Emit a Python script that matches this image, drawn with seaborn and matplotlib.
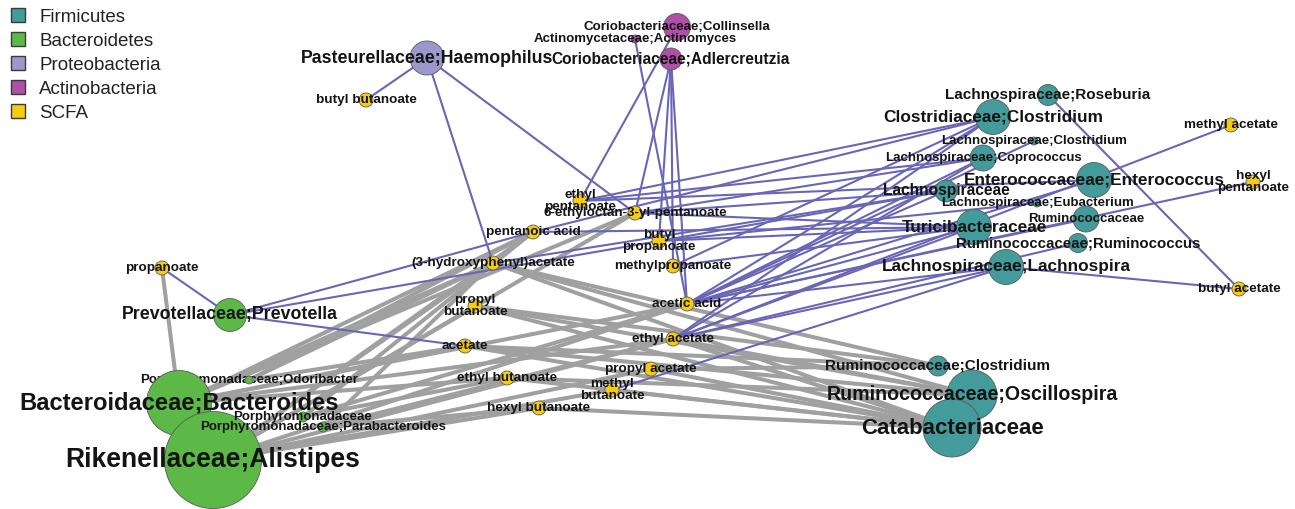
import matplotlib
matplotlib.use("Agg")
import matplotlib.pyplot as plt
from matplotlib.lines import Line2D
import seaborn as sns
import pandas as pd

# ---------------- data ----------------
node_names = [
    "Pasteurellaceae;Haemophilus", "Coriobacteriaceae;Collinsella", "Actinomycetaceae;Actinomyces",
    "Coriobacteriaceae;Adlercreutzia", "Lachnospiraceae;Roseburia", "Clostridiaceae;Clostridium",
    "Lachnospiraceae;Clostridium", "Lachnospiraceae;Coprococcus", "Enterococcaceae;Enterococcus",
    "Lachnospiraceae", "Lachnospiraceae;Eubacterium", "Ruminococcaceae", "Turicibacteraceae",
    "Ruminococcaceae;Ruminococcus", "Lachnospiraceae;Lachnospira", "Prevotellaceae;Prevotella",
    "Porphyromonadaceae;Odoribacter", "Porphyromonadaceae", "Porphyromonadaceae;Parabacteroides",
    "Rikenellaceae;Alistipes", "Bacteroidaceae;Bacteroides", "Ruminococcaceae;Clostridium",
    "Ruminococcaceae;Oscillospira", "Catabacteriaceae",
    "butyl butanoate", "propanoate", "ethyl pentanoate", "6-ethyloctan-3-yl-pentanoate",
    "pentanoic acid", "butyl propanoate", "(3-hydroxyphenyl)acetate", "methylpropanoate",
    "acetic acid", "propyl butanoate", "ethyl acetate", "acetate", "propyl acetate",
    "ethyl butanoate", "methyl butanoate", "hexyl butanoate", "methyl acetate",
    "hexyl pentanoate", "butyl acetate",
]
node_labels = [
    "Pasteurellaceae;Haemophilus", "Coriobacteriaceae;Collinsella", "Actinomycetaceae;Actinomyces",
    "Coriobacteriaceae;Adlercreutzia", "Lachnospiraceae;Roseburia", "Clostridiaceae;Clostridium",
    "Lachnospiraceae;Clostridium", "Lachnospiraceae;Coprococcus", "Enterococcaceae;Enterococcus",
    "Lachnospiraceae", "Lachnospiraceae;Eubacterium", "Ruminococcaceae", "Turicibacteraceae",
    "Ruminococcaceae;Ruminococcus", "Lachnospiraceae;Lachnospira", "Prevotellaceae;Prevotella",
    "Porphyromonadaceae;Odoribacter", "Porphyromonadaceae", "Porphyromonadaceae;Parabacteroides",
    "Rikenellaceae;Alistipes", "Bacteroidaceae;Bacteroides", "Ruminococcaceae;Clostridium",
    "Ruminococcaceae;Oscillospira", "Catabacteriaceae",
    "butyl butanoate", "propanoate", "ethyl\npentanoate", "6-ethyloctan-3-yl-pentanoate",
    "pentanoic acid", "butyl\npropanoate", "(3-hydroxyphenyl)acetate", "methylpropanoate",
    "acetic acid", "propyl\nbutanoate", "ethyl acetate", "acetate", "propyl acetate",
    "ethyl butanoate", "methyl\nbutanoate", "hexyl butanoate", "methyl acetate",
    "hexyl\npentanoate", "butyl acetate",
]
node_group = (
    ["Proteobacteria", "Actinobacteria", "Actinobacteria", "Actinobacteria"]
    + ["Firmicutes"] * 11
    + ["Bacteroidetes"] * 6
    + ["Firmicutes"] * 3
    + ["SCFA"] * 19
)
# layout coordinates (network layout space)
node_x = [427, 677, 635, 671, 1048, 993, 1034, 983, 1094, 946, 1037, 1086, 974, 1078, 1006,
          230, 249, 303, 323, 213, 179, 938, 972, 952,
          366, 162, 580, 635, 533, 659, 493, 673, 687, 475, 673, 465, 651, 507, 612, 539,
          1231, 1253, 1239]
node_y = [58, 27, 39, 59, 95, 117, 141, 158, 180, 191, 203, 219, 227, 243, 267,
          315, 380, 417, 427, 460, 403, 366, 395, 428,
          100, 268, 201, 213, 232, 241, 263, 266, 304, 306, 339, 346, 369, 378, 390, 408,
          125, 182, 289]
# node weight (drawn radius)
node_weight = [17, 13.5, 4, 11, 10.5, 17.5, 4, 13, 17.5, 11, 4, 13, 17.5, 9.5, 17.5,
               16.5, 4, 5, 5, 48.5, 32.5, 10, 25, 29] + [7] * 19

groups = ["Firmicutes", "Bacteroidetes", "Proteobacteria", "Actinobacteria", "SCFA"]

positive_edges = [
    ("Pasteurellaceae;Haemophilus", "butyl butanoate"),
    ("Pasteurellaceae;Haemophilus", "(3-hydroxyphenyl)acetate"),
    ("Pasteurellaceae;Haemophilus", "6-ethyloctan-3-yl-pentanoate"),
    ("Coriobacteriaceae;Collinsella", "ethyl pentanoate"),
    ("Actinomycetaceae;Actinomyces", "acetic acid"),
    ("Coriobacteriaceae;Adlercreutzia", "6-ethyloctan-3-yl-pentanoate"),
    ("Coriobacteriaceae;Adlercreutzia", "butyl propanoate"),
    ("Coriobacteriaceae;Adlercreutzia", "methylpropanoate"),
    ("Coriobacteriaceae;Adlercreutzia", "acetic acid"),
    ("Prevotellaceae;Prevotella", "propanoate"),
    ("Prevotellaceae;Prevotella", "pentanoic acid"),
    ("Prevotellaceae;Prevotella", "butyl propanoate"),
    ("Prevotellaceae;Prevotella", "acetate"),
    ("Clostridiaceae;Clostridium", "ethyl pentanoate"),
    ("Clostridiaceae;Clostridium", "pentanoic acid"),
    ("Clostridiaceae;Clostridium", "acetic acid"),
    ("Clostridiaceae;Clostridium", "ethyl acetate"),
    ("Clostridiaceae;Clostridium", "methylpropanoate"),
    ("Lachnospiraceae;Coprococcus", "ethyl pentanoate"),
    ("Lachnospiraceae;Coprococcus", "acetic acid"),
    ("Lachnospiraceae;Coprococcus", "ethyl acetate"),
    ("Lachnospiraceae;Coprococcus", "6-ethyloctan-3-yl-pentanoate"),
    ("Lachnospiraceae", "6-ethyloctan-3-yl-pentanoate"),
    ("Lachnospiraceae", "acetic acid"),
    ("Lachnospiraceae", "(3-hydroxyphenyl)acetate"),
    ("Lachnospiraceae", "butyl propanoate"),
    ("Turicibacteraceae", "6-ethyloctan-3-yl-pentanoate"),
    ("Turicibacteraceae", "methylpropanoate"),
    ("Turicibacteraceae", "acetic acid"),
    ("Turicibacteraceae", "ethyl acetate"),
    ("Turicibacteraceae", "butyl propanoate"),
    ("Turicibacteraceae", "pentanoic acid"),
    ("Enterococcaceae;Enterococcus", "acetic acid"),
    ("Enterococcaceae;Enterococcus", "ethyl pentanoate"),
    ("Lachnospiraceae;Clostridium", "acetic acid"),
    ("Lachnospiraceae;Eubacterium", "butyl propanoate"),
    ("Ruminococcaceae", "acetic acid"),
    ("Ruminococcaceae;Ruminococcus", "ethyl acetate"),
    ("Lachnospiraceae;Lachnospira", "acetic acid"),
    ("Lachnospiraceae;Lachnospira", "ethyl acetate"),
    ("Lachnospiraceae;Lachnospira", "methyl butanoate"),
    ("Lachnospiraceae;Lachnospira", "butyl acetate"),
    ("Lachnospiraceae;Roseburia", "butyl acetate"),
    ("methyl acetate", "ethyl acetate"),
    ("hexyl pentanoate", "acetic acid"),
]
negative_edges = [
    ("Bacteroidaceae;Bacteroides", "propanoate"),
    ("Bacteroidaceae;Bacteroides", "pentanoic acid"),
    ("Bacteroidaceae;Bacteroides", "6-ethyloctan-3-yl-pentanoate"),
    ("Bacteroidaceae;Bacteroides", "(3-hydroxyphenyl)acetate"),
    ("Bacteroidaceae;Bacteroides", "acetic acid"),
    ("Bacteroidaceae;Bacteroides", "acetate"),
    ("Bacteroidaceae;Bacteroides", "ethyl acetate"),
    ("Bacteroidaceae;Bacteroides", "ethyl butanoate"),
    ("Rikenellaceae;Alistipes", "pentanoic acid"),
    ("Rikenellaceae;Alistipes", "(3-hydroxyphenyl)acetate"),
    ("Rikenellaceae;Alistipes", "6-ethyloctan-3-yl-pentanoate"),
    ("Rikenellaceae;Alistipes", "acetic acid"),
    ("Rikenellaceae;Alistipes", "propyl butanoate"),
    ("Rikenellaceae;Alistipes", "ethyl acetate"),
    ("Rikenellaceae;Alistipes", "hexyl butanoate"),
    ("Rikenellaceae;Alistipes", "methyl butanoate"),
    ("Rikenellaceae;Alistipes", "propyl acetate"),
    ("Porphyromonadaceae;Odoribacter", "pentanoic acid"),
    ("Porphyromonadaceae;Odoribacter", "(3-hydroxyphenyl)acetate"),
    ("Porphyromonadaceae;Odoribacter", "acetate"),
    ("Porphyromonadaceae", "pentanoic acid"),
    ("Porphyromonadaceae", "ethyl butanoate"),
    ("Porphyromonadaceae", "acetic acid"),
    ("Porphyromonadaceae;Parabacteroides", "(3-hydroxyphenyl)acetate"),
    ("Porphyromonadaceae;Parabacteroides", "hexyl butanoate"),
    ("Porphyromonadaceae;Parabacteroides", "ethyl acetate"),
    ("Ruminococcaceae;Clostridium", "(3-hydroxyphenyl)acetate"),
    ("Ruminococcaceae;Clostridium", "propyl butanoate"),
    ("Ruminococcaceae;Clostridium", "acetate"),
    ("Ruminococcaceae;Clostridium", "propyl acetate"),
    ("Ruminococcaceae;Oscillospira", "(3-hydroxyphenyl)acetate"),
    ("Ruminococcaceae;Oscillospira", "acetate"),
    ("Ruminococcaceae;Oscillospira", "ethyl acetate"),
    ("Ruminococcaceae;Oscillospira", "ethyl butanoate"),
    ("Ruminococcaceae;Oscillospira", "propyl butanoate"),
    ("Catabacteriaceae", "(3-hydroxyphenyl)acetate"),
    ("Catabacteriaceae", "acetate"),
    ("Catabacteriaceae", "ethyl butanoate"),
    ("Catabacteriaceae", "hexyl butanoate"),
    ("Catabacteriaceae", "methyl butanoate"),
    ("Catabacteriaceae", "propyl acetate"),
    ("Catabacteriaceae", "ethyl acetate"),
    ("Catabacteriaceae", "propyl butanoate"),
]

# ---------------- style ----------------
palette = {
    "Firmicutes": "#439b9b",
    "Bacteroidetes": "#5cb947",
    "Proteobacteria": "#9c98cc",
    "Actinobacteria": "#b04fa6",
    "SCFA": "#f5cc12",
}
POS_COLOR = "#6a66b6"
NEG_COLOR = "#a0a0a0"
LABELS_BEHIND = {"Porphyromonadaceae;Odoribacter"}
SCFA_FONT = 9.7
FONT_BY_WEIGHT = {4: 9.5, 5: 9.5, 9.5: 10.8, 10: 11, 10.5: 11, 11: 11.2, 13: 9.5,
                  13.5: 9.6, 16.5: 12.8, 17: 12.8, 17.5: 12.4, 25: 14.1, 29: 16,
                  32.5: 17.1, 48.5: 19.1}

sns.set_theme(style="white")
plt.rcParams["font.family"] = ["Liberation Sans", "DejaVu Sans"]

W, H, DPI = 1295, 509, 100
fig = plt.figure(figsize=(W / DPI, H / DPI), dpi=DPI)
ax = fig.add_axes([0, 0, 1, 1])
ax.set_xlim(0, W)
ax.set_ylim(H, 0)
ax.axis("off")

nodes = pd.DataFrame({
    "name": node_names, "label": node_labels, "group": node_group,
    "x": node_x, "y": node_y, "w": node_weight,
})
pos = {n: (x, y) for n, x, y in zip(nodes["name"], nodes["x"], nodes["y"])}

# edges
for a, b in negative_edges:
    ax.plot([pos[a][0], pos[b][0]], [pos[a][1], pos[b][1]], color=NEG_COLOR,
            lw=2.9, solid_capstyle="round", zorder=1)
for a, b in positive_edges:
    ax.plot([pos[a][0], pos[b][0]], [pos[a][1], pos[b][1]], color=POS_COLOR,
            lw=1.5, solid_capstyle="round", zorder=2)

# nodes: marker area in pt^2 from drawn radius in px
size_map = {w: (2 * w * 72 / DPI) ** 2 for w in sorted(set(node_weight))}
order = nodes.sort_values("w").reset_index(drop=True)
sns.scatterplot(data=order, x="x", y="y", hue="group", palette=palette, size="w",
                sizes=size_map, legend=False, edgecolor="#5a5a5a", linewidth=0.6,
                ax=ax, zorder=3)

for _, r in nodes.iterrows():
    fs = SCFA_FONT if r["group"] == "SCFA" else FONT_BY_WEIGHT[r["w"]]
    z = 2.5 if r["name"] in LABELS_BEHIND else 5
    ax.text(r["x"], r["y"], r["label"], ha="center", va="center", fontsize=fs,
            fontweight="bold", color="#141414", linespacing=1.05, zorder=z)

# legend
handles = [Line2D([], [], marker="s", linestyle="none", markersize=10.5,
                  markerfacecolor=palette[g], markeredgecolor="#3a3a3a",
                  markeredgewidth=1.0) for g in groups]
leg = ax.legend(handles, groups, loc="upper left", bbox_to_anchor=(0.0, 1.0),
                frameon=False, fontsize=13.5, handlelength=1.0, handletextpad=0.65,
                labelspacing=0.37, borderaxespad=0.25, borderpad=0.2)
for t in leg.get_texts():
    t.set_color("#222222")

fig.savefig("out.png", dpi=DPI)
